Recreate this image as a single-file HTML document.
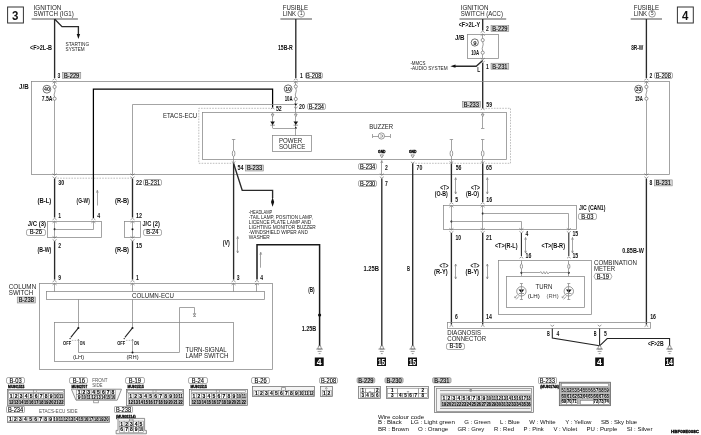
<!DOCTYPE html>
<html><head><meta charset="utf-8"><title>Wiring diagram</title><style>
html,body{margin:0;padding:0;background:#fff}
svg{display:block;will-change:transform;opacity:.999}
text{font-family:"Liberation Sans",sans-serif;fill:#111}
.n{font-size:6.6px;fill:#222}
.n3{font-size:5.5px;fill:#222}
.n2{font-size:5.9px;fill:#111}
.s{font-size:4.6px;fill:#222}
.s2{font-size:4.6px;fill:#555}
.b{font-size:6.4px;font-weight:bold;fill:#111}
.bt{font-size:8px;font-weight:normal;fill:#111;stroke:#111;stroke-width:.2}
.lt{font-size:6.5px;font-weight:normal;fill:#000;stroke:#000;stroke-width:.12}
.bs{font-size:6px;font-weight:bold;fill:#111}
.big{font-size:13.5px;font-weight:bold;fill:#111}
.gnd{font-size:3.9px;font-weight:bold;fill:#000;stroke:#000;stroke-width:.3}
.mu{font-size:4.2px;font-weight:bold;fill:#000;stroke:#000;stroke-width:.3}
.ct{font-size:5px;font-weight:bold;fill:#000;stroke:#000;stroke-width:.12}
.ct2{font-size:4.6px;font-weight:bold;fill:#000;stroke:#000;stroke-width:.08}
.cellg{stroke:#888;stroke-width:.4;fill:#d0d0d0}
.sqt{font-size:9.6px;font-weight:bold;fill:#fff}
.k{stroke:#000;stroke-width:1.25;fill:none}
.k2{stroke:#1a1a1a;stroke-width:1.5;fill:none}
.w{stroke:#2a2a2a;stroke-width:1.35;fill:none}
.w2{stroke:#222;stroke-width:1.05;fill:none}
.bar{stroke:#555;stroke-width:1.05;fill:none}
.bx{stroke:#333;stroke-width:1;fill:#fff}
.t{stroke:#858585;stroke-width:.75;fill:none}
.t2{stroke:#555;stroke-width:.6;fill:none}
.fc{stroke:#333;stroke-width:.7;fill:#fff}
.t2w{stroke:#555;stroke-width:.6;fill:#fff}
.dot{stroke:#888;stroke-width:.55;fill:none;stroke-dasharray:1.6 1.2}
.lb{stroke:#666;stroke-width:.55;fill:#fff}
.lbs{stroke:#777;stroke-width:.5;fill:#d6d6d6}
.lbg{stroke:#777;stroke-width:.5;fill:#c8c8c8}
.fk{fill:#111;stroke:none}
.blk{fill:#111;stroke:none}
.cbox{stroke:#666;stroke-width:.7;fill:#f4f4f4}
.cell{stroke:#777;stroke-width:.5;fill:#fff}
.gry{stroke:none;fill:#bbb}
.gryb{stroke:#555;stroke-width:.7;fill:#bbb}
</style></head><body>
<svg width="701" height="435" viewBox="0 0 701 435">
<rect x="0" y="0" width="701" height="435" fill="#fff"/>
<rect class="bx" x="7.6" y="7" width="15.8" height="16"/>
<text class="big" x="12.1" y="20.1" textLength="6.4" lengthAdjust="spacingAndGlyphs">3</text>
<rect class="bx" x="677.4" y="7" width="15.9" height="16"/>
<text class="big" x="682" y="20.1" textLength="6.4" lengthAdjust="spacingAndGlyphs">4</text>
<text class="n" x="33.6" y="10.2" textLength="27.8" lengthAdjust="spacingAndGlyphs">IGNITION</text>
<text class="n" x="33.6" y="16.3" textLength="40.2" lengthAdjust="spacingAndGlyphs">SWITCH (IG1)</text>
<polyline class="bar" points="31.6,19 77.9,19"/>
<polyline class="w" points="54.6,19 54.6,78"/>
<polyline class="w" points="54.6,19 62,26.6 78.4,26.6 78.4,35"/>
<path class="fk" d="M76.7,34 L80.1,34 L78.4,39Z"/>
<text class="s" x="65.6" y="46" textLength="23.6" lengthAdjust="spacingAndGlyphs">STARTING</text>
<text class="s" x="65.6" y="51" textLength="19" lengthAdjust="spacingAndGlyphs">SYSTEM</text>
<text class="b" x="30" y="50.3" textLength="22" lengthAdjust="spacingAndGlyphs">&lt;F&gt;2L-B</text>
<text class="b" x="57.6" y="77.6" textLength="2.8" lengthAdjust="spacingAndGlyphs">3</text>
<rect class="lbs" x="62.5" y="72.3" width="18.3" height="6"/>
<text class="lt" x="64.03" y="77.6" textLength="15.25" lengthAdjust="spacingAndGlyphs">B-229</text>
<text class="n" x="282.7" y="10.2" textLength="25.3" lengthAdjust="spacingAndGlyphs">FUSIBLE</text>
<text class="n" x="282.7" y="16.3" textLength="13.4" lengthAdjust="spacingAndGlyphs">LINK</text>
<circle class="t2" cx="301.2" cy="13.8" r="3.3"/>
<text class="s" x="301.3" y="15.2" text-anchor="middle">1</text>
<polyline class="bar" points="280.4,19 312,19"/>
<polyline class="w" points="295.8,19 295.8,78"/>
<text class="b" x="277.9" y="49.8" textLength="14.9" lengthAdjust="spacingAndGlyphs">15B-R</text>
<text class="b" x="300" y="77.6" textLength="2.8" lengthAdjust="spacingAndGlyphs">1</text>
<rect class="lb" x="305.5" y="72.5" width="17" height="6" rx="1.7"/>
<text class="lt" x="306.12" y="77.6" textLength="15.25" lengthAdjust="spacingAndGlyphs">B-208</text>
<text class="n" x="460.7" y="10.2" textLength="27.8" lengthAdjust="spacingAndGlyphs">IGNITION</text>
<text class="n" x="460.7" y="16.3" textLength="42.3" lengthAdjust="spacingAndGlyphs">SWITCH (ACC)</text>
<polyline class="bar" points="459.5,19 506.2,19"/>
<text class="b" x="458.7" y="26.8" textLength="21.5" lengthAdjust="spacingAndGlyphs">&lt;F&gt;2L-Y</text>
<text class="b" x="486" y="30.9" textLength="2.8" lengthAdjust="spacingAndGlyphs">2</text>
<rect class="lbs" x="491" y="25.6" width="17.8" height="6"/>
<text class="lt" x="492.27" y="30.9" textLength="15.25" lengthAdjust="spacingAndGlyphs">B-229</text>
<polyline class="w" points="482.7,19 482.7,30.5"/>
<polyline class="t2" points="480.7,32.6 482.7,31 484.7,32.6"/>
<polyline class="t2" points="480.7,35.6 482.7,34 484.7,35.6"/>
<rect class="t" x="467.5" y="34.5" width="31" height="24"/>
<polyline class="t" points="482.5,34.1 482.5,38.5"/>
<circle class="t2w" cx="482.7" cy="40.1" r="1.6"/>
<circle class="t2w" cx="482.7" cy="52.7" r="1.6"/>
<path class="t2" d="M482.7,41.7 C484.5,45.4 480.9,47.4 482.7,51.1"/>
<polyline class="t" points="482.5,54.3 482.5,58.7"/>
<circle class="fc" cx="474.8" cy="42.5" r="3.6"/>
<text class="bs" x="474.8" y="44.6" text-anchor="middle">9</text>
<text class="b" x="471.2" y="54.9" textLength="8" lengthAdjust="spacingAndGlyphs">10A</text>
<text class="b" x="454.9" y="39.7" textLength="9.6" lengthAdjust="spacingAndGlyphs">J/B</text>
<polyline class="t2" points="480.7,58.2 482.7,59.8 484.7,58.2"/>
<polyline class="t2" points="480.7,61.2 482.7,62.8 484.7,61.2"/>
<polyline class="w" points="482.7,63 482.7,108"/>
<polyline class="w" points="482.7,60.5 476.2,66.2 455,66.2"/>
<path class="fk" d="M455.5,64.6 L455.5,67.8 L450.3,66.2Z"/>
<text class="b" x="477.2" y="71.9" textLength="3" lengthAdjust="spacingAndGlyphs">L</text>
<text class="b" x="486" y="68.5" textLength="2.8" lengthAdjust="spacingAndGlyphs">1</text>
<rect class="lbs" x="491" y="63.2" width="17.8" height="6"/>
<text class="lt" x="492.27" y="68.5" textLength="15.25" lengthAdjust="spacingAndGlyphs">B-231</text>
<text class="s" x="410.4" y="64.5" textLength="15" lengthAdjust="spacingAndGlyphs">-MMCS</text>
<text class="s" x="410.4" y="69.5" textLength="37.2" lengthAdjust="spacingAndGlyphs">-AUDIO SYSTEM</text>
<text class="n" x="633.7" y="10.2" textLength="25.3" lengthAdjust="spacingAndGlyphs">FUSIBLE</text>
<text class="n" x="633.7" y="16.3" textLength="13.4" lengthAdjust="spacingAndGlyphs">LINK</text>
<circle class="t2" cx="652.1" cy="13.8" r="3.3"/>
<text class="s" x="652.3" y="15.2" text-anchor="middle">5</text>
<polyline class="bar" points="630.7,19 662,19"/>
<polyline class="w" points="646.4,19 646.4,78"/>
<text class="b" x="631.2" y="49.8" textLength="12.1" lengthAdjust="spacingAndGlyphs">8R-W</text>
<text class="b" x="649.4" y="77.6" textLength="2.8" lengthAdjust="spacingAndGlyphs">2</text>
<rect class="lb" x="654.5" y="72.5" width="18" height="6" rx="1.7"/>
<text class="lt" x="655.73" y="77.6" textLength="15.25" lengthAdjust="spacingAndGlyphs">B-208</text>
<rect class="t" x="31.5" y="81.5" width="638" height="93"/>
<text class="b" x="19" y="89.3" textLength="9.6" lengthAdjust="spacingAndGlyphs">J/B</text>
<polyline class="t2" points="52.6,80.2 54.6,78.6 56.6,80.2"/>
<polyline class="t2" points="52.6,83.2 54.6,81.6 56.6,83.2"/>
<polyline class="t" points="54.5,81.4 54.5,85.6"/>
<circle class="t2w" cx="54.6" cy="86.9" r="1.6"/>
<circle class="t2w" cx="54.6" cy="98.7" r="1.6"/>
<path class="t2" d="M54.6,88.5 C56.4,91.8 52.8,93.8 54.6,97.1"/>
<polyline class="t" points="54.5,100 54.5,174.4"/>
<circle class="fc" cx="46.9" cy="89.2" r="3.9"/>
<text class="bs" x="46.9" y="91.3" textLength="5.8" lengthAdjust="spacingAndGlyphs" text-anchor="middle">40</text>
<text class="b" x="41.7" y="101.1" textLength="10.7" lengthAdjust="spacingAndGlyphs">7.5A</text>
<polyline class="t2" points="293.8,80.2 295.8,78.6 297.8,80.2"/>
<polyline class="t2" points="293.8,83.2 295.8,81.6 297.8,83.2"/>
<polyline class="t" points="295.5,81.4 295.5,85.2"/>
<circle class="t2w" cx="295.8" cy="86.5" r="1.6"/>
<circle class="t2w" cx="295.8" cy="99" r="1.6"/>
<path class="t2" d="M295.8,88.1 C297.6,91.75 294,93.75 295.8,97.4"/>
<polyline class="t" points="295.5,100.3 295.5,112.5"/>
<circle class="fc" cx="288.1" cy="88.8" r="3.9"/>
<text class="bs" x="288.1" y="90.9" textLength="5.8" lengthAdjust="spacingAndGlyphs" text-anchor="middle">10</text>
<text class="b" x="284.7" y="101.1" textLength="7.9" lengthAdjust="spacingAndGlyphs">10A</text>
<polyline class="t2" points="294,103.36 295.8,104.8 297.6,103.36"/>
<polyline class="t2" points="294,106.86 295.8,108.3 297.6,106.86"/>
<text class="b" x="299" y="109" textLength="5.8" lengthAdjust="spacingAndGlyphs">20</text>
<rect class="lb" x="307.5" y="103.5" width="18" height="6" rx="1.7"/>
<text class="lt" x="308.77" y="109" textLength="15.25" lengthAdjust="spacingAndGlyphs">B-234</text>
<polyline class="t2" points="644.4,80.2 646.4,78.6 648.4,80.2"/>
<polyline class="t2" points="644.4,83.2 646.4,81.6 648.4,83.2"/>
<polyline class="t" points="646.5,81.4 646.5,85.6"/>
<circle class="t2w" cx="646.4" cy="86.9" r="1.6"/>
<circle class="t2w" cx="646.4" cy="98.7" r="1.6"/>
<path class="t2" d="M646.4,88.5 C648.2,91.8 644.6,93.8 646.4,97.1"/>
<polyline class="t" points="646.5,100 646.5,174.4"/>
<circle class="fc" cx="638.6" cy="89.2" r="3.9"/>
<text class="bs" x="638.6" y="91.3" textLength="5.8" lengthAdjust="spacingAndGlyphs" text-anchor="middle">33</text>
<text class="b" x="635" y="101.1" textLength="7.8" lengthAdjust="spacingAndGlyphs">15A</text>
<polyline class="k" points="93.4,218 93.4,89.2 272.6,89.2 272.6,107.5"/>
<polyline class="t" points="132.5,174.4 132.5,104.5 295.8,104.5"/>
<circle class="fk" cx="295.8" cy="104.4" r="0.9"/>
<polyline class="dot" points="272.6,108.3 198.8,108.3 198.8,163.3 233.6,163.3"/>
<polyline class="dot" points="482.7,108.3 510.5,108.3 510.5,163.3 412.7,163.3"/>
<rect class="t" x="202.5" y="112.5" width="304" height="47"/>
<text class="n" x="162.9" y="117.5" textLength="34.2" lengthAdjust="spacingAndGlyphs">ETACS-ECU</text>
<polyline class="t2" points="270.8,109.04 272.6,107.6 274.4,109.04"/>
<text class="b" x="275.9" y="111.1" textLength="5.8" lengthAdjust="spacingAndGlyphs">52</text>
<polyline class="t" points="272.6,112.5 272.6,114"/>
<path class="t2w" d="M271.3,114.2 L273.9,114.2 L272.6,116.8Z"/>
<polyline class="t" points="272.5,116.8 272.5,128"/>
<path class="fk" d="M270.3,121.6 L274.9,121.6 L272.6,125Z"/>
<polyline class="t2" points="270.3,125.2 274.9,125.2"/>
<polyline class="t" points="295.8,112.5 295.8,114"/>
<path class="t2w" d="M294.5,114.2 L297.1,114.2 L295.8,116.8Z"/>
<polyline class="t" points="295.5,116.8 295.5,128"/>
<path class="fk" d="M293.5,121.6 L298.1,121.6 L295.8,125Z"/>
<polyline class="t2" points="293.5,125.2 298.1,125.2"/>
<polyline class="t" points="272.6,128.5 295.8,128.5"/>
<circle class="fk" cx="295.8" cy="128" r="0.9"/>
<polyline class="t" points="295.5,128 295.5,135.7"/>
<rect class="t" x="272.5" y="135.5" width="39" height="16"/>
<text class="n" x="279" y="143.3" textLength="23.2" lengthAdjust="spacingAndGlyphs">POWER</text>
<text class="n" x="279" y="149.3" textLength="26.3" lengthAdjust="spacingAndGlyphs">SOURCE</text>
<polyline class="t" points="231.9,139.5 235.3,139.5"/>
<polyline class="t" points="233.5,139.5 233.5,150.5"/>
<ellipse class="t2w" cx="233.6" cy="153.5" rx="1.3" ry="3"/>
<polyline class="t" points="233.5,156.5 233.5,163"/>
<polyline class="t" points="449.7,139.5 453.1,139.5"/>
<polyline class="t" points="451.5,139.5 451.5,150.5"/>
<ellipse class="t2w" cx="451.4" cy="153.5" rx="1.3" ry="3"/>
<polyline class="t" points="451.5,156.5 451.5,163"/>
<polyline class="t" points="481,139.5 484.4,139.5"/>
<polyline class="t" points="482.5,139.5 482.5,150.5"/>
<ellipse class="t2w" cx="482.7" cy="153.5" rx="1.3" ry="3"/>
<polyline class="t" points="482.5,156.5 482.5,163"/>
<polyline class="t2" points="231.8,161.56 233.6,163 235.4,161.56"/>
<polyline class="t2" points="449.6,161.56 451.4,163 453.2,161.56"/>
<polyline class="t2" points="480.9,161.56 482.7,163 484.5,161.56"/>
<text class="b" x="237.4" y="170.3" textLength="6" lengthAdjust="spacingAndGlyphs">54</text>
<rect class="lbs" x="245.5" y="165" width="18" height="6"/>
<text class="lt" x="246.88" y="170.3" textLength="15.25" lengthAdjust="spacingAndGlyphs">B-233</text>
<polyline class="t2" points="480.9,109.74 482.7,108.3 484.5,109.74"/>
<rect class="lbs" x="462.3" y="101.4" width="18" height="6"/>
<text class="lt" x="463.68" y="106.7" textLength="15.25" lengthAdjust="spacingAndGlyphs">B-233</text>
<text class="b" x="486.3" y="106.8" textLength="5.7" lengthAdjust="spacingAndGlyphs">59</text>
<polyline class="t" points="482.7,112.5 482.7,114"/>
<path class="t2w" d="M481.4,114.2 L484,114.2 L482.7,116.8Z"/>
<polyline class="t" points="482.5,116.8 482.5,128"/>
<polyline class="t" points="481,128.5 484.4,128.5"/>
<text class="n" x="369.2" y="129.3" textLength="24" lengthAdjust="spacingAndGlyphs">BUZZER</text>
<circle class="t2" cx="381.4" cy="136" r="3.1"/>
<polyline class="t" points="372.8,136.5 378.3,136.5"/>
<polyline class="t" points="384.5,136.5 390,136.5"/>
<polyline class="t" points="372.5,134 372.5,138"/>
<polyline class="t" points="390.5,134 390.5,138"/>
<path class="t2" d="M380.2,134.9 L381.6,134.9 A1.1,1.1 0 0 1 381.6,137.1 L380.2,137.1"/>
<text class="gnd" x="381.8" y="152.8" textLength="7.6" lengthAdjust="spacingAndGlyphs" text-anchor="middle">GND</text>
<path class="t2w" d="M380.1,154.9 L383.5,154.9 L381.8,157.8Z"/>
<text class="gnd" x="412.7" y="152.8" textLength="7.6" lengthAdjust="spacingAndGlyphs" text-anchor="middle">GND</text>
<path class="t2w" d="M411,154.9 L414.4,154.9 L412.7,157.8Z"/>
<polyline class="t" points="381.5,160.6 381.5,174.4"/>
<polyline class="t2" points="410.9,161.86 412.7,163.3 414.5,161.86"/>
<polyline class="t2" points="52.6,173.7 54.6,175.3 56.6,173.7"/>
<polyline class="t2" points="52.6,176.7 54.6,178.3 56.6,176.7"/>
<polyline class="t2" points="130.5,173.7 132.5,175.3 134.5,173.7"/>
<polyline class="t2" points="130.5,176.7 132.5,178.3 134.5,176.7"/>
<polyline class="dot" points="54.6,178.2 132.5,178.2"/>
<text class="b" x="58.2" y="185.2" textLength="6" lengthAdjust="spacingAndGlyphs">30</text>
<text class="b" x="136" y="185.2" textLength="6" lengthAdjust="spacingAndGlyphs">22</text>
<rect class="lb" x="143.5" y="179.5" width="18" height="6" rx="1.7"/>
<text class="lt" x="144.82" y="185.2" textLength="15.25" lengthAdjust="spacingAndGlyphs">B-231</text>
<text class="b" x="37.4" y="202.8" textLength="13.9" lengthAdjust="spacingAndGlyphs">(B-L)</text>
<text class="b" x="76.6" y="202.8" textLength="13.2" lengthAdjust="spacingAndGlyphs">(G-W)</text>
<text class="b" x="115" y="202.8" textLength="14" lengthAdjust="spacingAndGlyphs">(R-B)</text>
<polyline class="t" points="97.5,190.3 97.5,205.5"/>
<polyline class="t" points="96.4,192.7 97.3,190.3 98.2,192.7"/>
<polyline class="w" points="54.6,178.6 54.6,217.5"/>
<polyline class="w" points="132.5,178.6 132.5,217.5"/>
<text class="b" x="58.2" y="218" textLength="2.8" lengthAdjust="spacingAndGlyphs">1</text>
<text class="b" x="97.3" y="218" textLength="2.9" lengthAdjust="spacingAndGlyphs">4</text>
<text class="b" x="136" y="218" textLength="6" lengthAdjust="spacingAndGlyphs">12</text>
<polyline class="t2" points="52.6,219.9 54.6,218.3 56.6,219.9"/>
<polyline class="t2" points="52.6,222.9 54.6,221.3 56.6,222.9"/>
<polyline class="t2" points="91.4,219.9 93.4,218.3 95.4,219.9"/>
<polyline class="t2" points="91.4,222.9 93.4,221.3 95.4,222.9"/>
<polyline class="t2" points="130.5,219.9 132.5,218.3 134.5,219.9"/>
<polyline class="t2" points="130.5,222.9 132.5,221.3 134.5,222.9"/>
<rect class="t" x="47.5" y="221.5" width="54" height="16"/>
<polyline class="t" points="54.5,221.4 54.5,237.5"/>
<circle class="fk" cx="54.6" cy="229.3" r="1"/>
<polyline class="t" points="54.6,229.5 93.5,229.5 93.5,221.4"/>
<text class="b" x="27.8" y="226.3" textLength="18.2" lengthAdjust="spacingAndGlyphs">J/C (3)</text>
<rect class="lb" x="26.5" y="229.5" width="19" height="6" rx="1.7"/>
<text class="lt" x="29.65" y="234.3" textLength="12.2" lengthAdjust="spacingAndGlyphs">B-26</text>
<rect class="t" x="124.5" y="221.5" width="16" height="16"/>
<polyline class="t" points="132.5,221.4 132.5,237.5"/>
<circle class="fk" cx="132.5" cy="229.3" r="1"/>
<text class="b" x="142.4" y="226.3" textLength="17.4" lengthAdjust="spacingAndGlyphs">J/C (2)</text>
<rect class="lb" x="143.5" y="229.5" width="18" height="6" rx="1.7"/>
<text class="lt" x="146.35" y="234.3" textLength="12.2" lengthAdjust="spacingAndGlyphs">B-24</text>
<polyline class="t2" points="52.6,236.4 54.6,238 56.6,236.4"/>
<polyline class="t2" points="52.6,239.4 54.6,241 56.6,239.4"/>
<polyline class="t2" points="130.5,236.4 132.5,238 134.5,236.4"/>
<polyline class="t2" points="130.5,239.4 132.5,241 134.5,239.4"/>
<text class="b" x="58.2" y="247.8" textLength="2.8" lengthAdjust="spacingAndGlyphs">2</text>
<text class="b" x="136" y="247.8" textLength="6" lengthAdjust="spacingAndGlyphs">15</text>
<text class="b" x="37.4" y="252.1" textLength="13.9" lengthAdjust="spacingAndGlyphs">(B-W)</text>
<text class="b" x="115" y="252.1" textLength="14" lengthAdjust="spacingAndGlyphs">(R-B)</text>
<polyline class="w" points="54.6,241.2 54.6,279.6"/>
<polyline class="w" points="132.5,241.2 132.5,279.6"/>
<text class="b" x="58.2" y="279.6" textLength="2.8" lengthAdjust="spacingAndGlyphs">9</text>
<text class="b" x="136" y="279.6" textLength="2.8" lengthAdjust="spacingAndGlyphs">1</text>
<polyline class="t2" points="52.6,282 54.6,280.4 56.6,282"/>
<polyline class="t2" points="52.6,285 54.6,283.4 56.6,285"/>
<polyline class="t2" points="130.5,282 132.5,280.4 134.5,282"/>
<polyline class="t2" points="130.5,285 132.5,283.4 134.5,285"/>
<polyline class="t2" points="231.6,282 233.6,280.4 235.6,282"/>
<polyline class="t2" points="231.6,285 233.6,283.4 235.6,285"/>
<polyline class="t2" points="254.9,282 256.9,280.4 258.9,282"/>
<polyline class="t2" points="254.9,285 256.9,283.4 258.9,285"/>
<polyline class="w" points="233.6,163.5 233.6,279.6"/>
<polyline class="w" points="233.6,163.5 242.2,190.3 272.6,190.3 272.6,198"/>
<path class="fk" d="M271,202 L274.2,202 L272.6,197.2Z"/>
<path class="fk" d="M271,202 L274.2,202 L272.6,206.8Z"/>
<text class="s" x="248.8" y="214.2" textLength="23.5" lengthAdjust="spacingAndGlyphs">-HEADLAMP</text>
<text class="s" x="248.8" y="219.13" textLength="64" lengthAdjust="spacingAndGlyphs">-TAIL LAMP, POSITION LAMP,</text>
<text class="s" x="248.8" y="224.06" textLength="62.5" lengthAdjust="spacingAndGlyphs">LICENCE PLATE LAMP AND</text>
<text class="s" x="248.8" y="228.99" textLength="67" lengthAdjust="spacingAndGlyphs">LIGHTING MONITOR BUZZER</text>
<text class="s" x="248.8" y="233.92" textLength="59" lengthAdjust="spacingAndGlyphs">-WINDSHIELD WIPER AND</text>
<text class="s" x="248.8" y="238.85" textLength="21" lengthAdjust="spacingAndGlyphs">WASHER</text>
<text class="b" x="222.8" y="244.5" textLength="7.1" lengthAdjust="spacingAndGlyphs">(V)</text>
<polyline class="t" points="237.5,236.6 237.5,253"/>
<polyline class="t" points="236.8,238.8 237.7,236.6 238.6,238.8"/>
<polyline class="t" points="236.8,250.8 237.7,253 238.6,250.8"/>
<polyline class="k2" points="257,279.6 257,244.7 319.6,244.7 319.6,346"/>
<polyline class="t" points="260.5,252.3 260.5,267.7"/>
<polyline class="t" points="259.9,254.7 260.8,252.3 261.7,254.7"/>
<text class="b" x="236.8" y="279.6" textLength="2.8" lengthAdjust="spacingAndGlyphs">3</text>
<text class="b" x="260.2" y="279.8" textLength="2.8" lengthAdjust="spacingAndGlyphs">4</text>
<circle class="fk" cx="319.6" cy="315" r="1.6"/>
<text class="b" x="308.2" y="292" textLength="6.4" lengthAdjust="spacingAndGlyphs">(B)</text>
<text class="b" x="301.7" y="330.7" textLength="14.6" lengthAdjust="spacingAndGlyphs">1.25B</text>
<path class="t2w" d="M318.7,345.8 L320.5,345.8 L321.5,349 L317.7,349Z"/>
<polyline class="t2" points="316.2,349.1 323,349.1"/>
<polyline class="t2" points="317.6,351.4 321.6,351.4"/>
<polyline class="t2" points="318.7,353.6 320.5,353.6"/>
<rect class="blk" x="314.8" y="357.5" width="8.9" height="8.5"/>
<text class="sqt" x="319.25" y="365.1" textLength="4.8" lengthAdjust="spacingAndGlyphs" text-anchor="middle">4</text>
<rect class="t" x="39.5" y="283.5" width="233" height="86"/>
<text class="n" x="8.8" y="288.8" textLength="27.4" lengthAdjust="spacingAndGlyphs">COLUMN</text>
<text class="n" x="8.8" y="294.6" textLength="24.5" lengthAdjust="spacingAndGlyphs">SWITCH</text>
<rect class="lbs" x="17.2" y="297" width="18.2" height="6"/>
<text class="lt" x="18.67" y="302.3" textLength="15.25" lengthAdjust="spacingAndGlyphs">B-238</text>
<rect class="t" x="46.5" y="291.5" width="218" height="8"/>
<text class="n" x="132" y="297.8" textLength="42" lengthAdjust="spacingAndGlyphs">COLUMN-ECU</text>
<polyline class="t" points="54.5,283.4 54.5,291.7"/>
<polyline class="t" points="132.5,283.4 132.5,291.7"/>
<polyline class="t" points="233.5,283.4 233.5,291.7"/>
<polyline class="t" points="256.5,283.4 256.5,291.7"/>
<rect class="t" x="54.5" y="322.5" width="179" height="39"/>
<polyline class="t" points="78.5,299.3 78.5,327.9"/>
<circle class="fk" cx="78.4" cy="327.9" r="1"/>
<polyline class="w2" points="78.4,327.9 70.8,337.4"/>
<circle class="fk" cx="70.1" cy="338.6" r="0.7"/>
<text class="bs" x="63.1" y="344.8" textLength="8" lengthAdjust="spacingAndGlyphs">OFF</text>
<text class="bs" x="79.8" y="344.8" textLength="5.1" lengthAdjust="spacingAndGlyphs">ON</text>
<polyline class="dot" points="71.8,340.4 76.9,340.4"/>
<polyline class="t" points="78.5,339.2 78.5,343.6"/>
<polyline class="t" points="77.6,340.8 78.4,339.2 79.2,340.8"/>
<polyline class="t" points="78.5,343.6 78.5,352.5"/>
<polyline class="t" points="132.5,299.3 132.5,327.9"/>
<circle class="fk" cx="132.5" cy="327.9" r="1"/>
<polyline class="w2" points="132.5,327.9 124.9,337.4"/>
<circle class="fk" cx="124.2" cy="338.6" r="0.7"/>
<text class="bs" x="117.2" y="344.8" textLength="8" lengthAdjust="spacingAndGlyphs">OFF</text>
<text class="bs" x="133.9" y="344.8" textLength="5.1" lengthAdjust="spacingAndGlyphs">ON</text>
<polyline class="dot" points="125.9,340.4 131,340.4"/>
<polyline class="t" points="132.5,339.2 132.5,343.6"/>
<polyline class="t" points="131.7,340.8 132.5,339.2 133.3,340.8"/>
<polyline class="t" points="132.5,343.6 132.5,352.5"/>
<polyline class="t" points="78.4,352.5 179.3,352.5"/>
<circle class="fk" cx="132.5" cy="352.5" r="1"/>
<polyline class="t" points="179.5,352.5 179.5,307.5 194.5,307.5 194.5,313.6"/>
<path class="t2w" d="M193.3,313.7 L195.7,313.7 L194.5,315.8Z"/>
<polyline class="t" points="193,316.5 196,316.5"/>
<text class="n3" x="72.9" y="358.8" textLength="11.3" lengthAdjust="spacingAndGlyphs">(LH)</text>
<text class="n3" x="126.4" y="358.8" textLength="12.2" lengthAdjust="spacingAndGlyphs">(RH)</text>
<text class="n" x="185.6" y="351.9" textLength="41" lengthAdjust="spacingAndGlyphs">TURN-SIGNAL</text>
<text class="n" x="185.6" y="358.2" textLength="43" lengthAdjust="spacingAndGlyphs">LAMP SWITCH</text>
<rect class="lb" x="358.5" y="163.5" width="18" height="6" rx="1.7"/>
<text class="lt" x="360.02" y="169.2" textLength="15.25" lengthAdjust="spacingAndGlyphs">B-234</text>
<text class="b" x="385" y="169.7" textLength="2.8" lengthAdjust="spacingAndGlyphs">2</text>
<rect class="lb" x="358.5" y="180.5" width="18" height="6" rx="1.7"/>
<text class="lt" x="360.02" y="185.6" textLength="15.25" lengthAdjust="spacingAndGlyphs">B-230</text>
<text class="b" x="385" y="185.6" textLength="2.8" lengthAdjust="spacingAndGlyphs">7</text>
<polyline class="t" points="380.8,163 381.8,160.6 382.8,163"/>
<polyline class="t2" points="379.8,173.7 381.8,175.3 383.8,173.7"/>
<polyline class="t2" points="379.8,176.7 381.8,178.3 383.8,176.7"/>
<polyline class="w" points="381.8,178.6 381.8,346"/>
<polyline class="w" points="412.7,163.5 412.7,346"/>
<text class="b" x="416.5" y="170.3" textLength="5.8" lengthAdjust="spacingAndGlyphs">70</text>
<text class="b" x="455.7" y="170.3" textLength="5.8" lengthAdjust="spacingAndGlyphs">56</text>
<text class="b" x="486" y="170.3" textLength="5.8" lengthAdjust="spacingAndGlyphs">65</text>
<polyline class="w" points="451.4,163.5 451.4,202"/>
<polyline class="w" points="482.7,163.5 482.7,202"/>
<text class="bt" x="444.7" y="189.6" textLength="8.8" lengthAdjust="spacingAndGlyphs" text-anchor="middle">&lt;T&gt;</text>
<text class="b" x="434.7" y="195.8" textLength="13.1" lengthAdjust="spacingAndGlyphs">(O-B)</text>
<polyline class="t" points="455.5,177.7 455.5,194"/>
<polyline class="t" points="454.8,179.9 455.7,177.7 456.6,179.9"/>
<polyline class="t" points="454.8,191.8 455.7,194 456.6,191.8"/>
<text class="bt" x="475.5" y="189.6" textLength="8.8" lengthAdjust="spacingAndGlyphs" text-anchor="middle">&lt;T&gt;</text>
<text class="b" x="466" y="195.8" textLength="13" lengthAdjust="spacingAndGlyphs">(B-O)</text>
<polyline class="t" points="487.5,177.7 487.5,194"/>
<polyline class="t" points="486.4,179.9 487.3,177.7 488.2,179.9"/>
<polyline class="t" points="486.4,191.8 487.3,194 488.2,191.8"/>
<text class="b" x="455.3" y="202" textLength="2.8" lengthAdjust="spacingAndGlyphs">5</text>
<text class="b" x="486.3" y="202" textLength="5.8" lengthAdjust="spacingAndGlyphs">16</text>
<polyline class="t2" points="449.4,204.2 451.4,202.6 453.4,204.2"/>
<polyline class="t2" points="449.4,207.2 451.4,205.6 453.4,207.2"/>
<polyline class="t2" points="480.7,204.2 482.7,202.6 484.7,204.2"/>
<polyline class="t2" points="480.7,207.2 482.7,205.6 484.7,207.2"/>
<rect class="t" x="443.5" y="205.5" width="133" height="24"/>
<polyline class="t" points="451.5,205.5 451.5,229"/>
<polyline class="t" points="482.5,205.5 482.5,229"/>
<circle class="fk" cx="482.7" cy="213.6" r="1"/>
<polyline class="t" points="482.7,213.5 568.5,213.5 568.5,229"/>
<circle class="fk" cx="451.4" cy="221.4" r="1"/>
<polyline class="t" points="451.4,221.5 521.5,221.5 521.5,229"/>
<text class="b" x="578.9" y="210.3" textLength="26.5" lengthAdjust="spacingAndGlyphs">J/C (CAN1)</text>
<rect class="lb" x="578.5" y="213.5" width="18" height="6" rx="1.7"/>
<text class="lt" x="581.35" y="218.9" textLength="12.2" lengthAdjust="spacingAndGlyphs">B-03</text>
<polyline class="t2" points="449.4,228.3 451.4,229.9 453.4,228.3"/>
<polyline class="t2" points="449.4,231.3 451.4,232.9 453.4,231.3"/>
<polyline class="t2" points="480.7,228.3 482.7,229.9 484.7,228.3"/>
<polyline class="t2" points="480.7,231.3 482.7,232.9 484.7,231.3"/>
<polyline class="t2" points="519.4,228.3 521.4,229.9 523.4,228.3"/>
<polyline class="t2" points="519.4,231.3 521.4,232.9 523.4,231.3"/>
<polyline class="t2" points="566.8,228.3 568.8,229.9 570.8,228.3"/>
<polyline class="t2" points="566.8,231.3 568.8,232.9 570.8,231.3"/>
<text class="b" x="455.4" y="239.7" textLength="5.7" lengthAdjust="spacingAndGlyphs">10</text>
<text class="b" x="486" y="239.7" textLength="5.8" lengthAdjust="spacingAndGlyphs">21</text>
<polyline class="w" points="451.4,233 451.4,324.6"/>
<polyline class="w" points="482.7,233 482.7,324.6"/>
<polyline class="w2" points="521.4,233 521.4,256"/>
<polyline class="w2" points="568.8,233 568.8,256"/>
<text class="b" x="525.5" y="236" textLength="2.8" lengthAdjust="spacingAndGlyphs">4</text>
<text class="b" x="525.5" y="258.3" textLength="5.8" lengthAdjust="spacingAndGlyphs">16</text>
<text class="b" x="572.4" y="236" textLength="5.8" lengthAdjust="spacingAndGlyphs">15</text>
<text class="b" x="572.4" y="258.1" textLength="5.8" lengthAdjust="spacingAndGlyphs">15</text>
<polyline class="t" points="525.5,237.5 525.5,253"/>
<polyline class="t" points="524.7,239.7 525.6,237.5 526.5,239.7"/>
<polyline class="t" points="524.7,250.8 525.6,253 526.5,250.8"/>
<polyline class="t" points="572.5,237.5 572.5,253"/>
<polyline class="t" points="571.6,239.7 572.5,237.5 573.4,239.7"/>
<polyline class="t" points="571.6,250.8 572.5,253 573.4,250.8"/>
<text class="b" x="494.9" y="248.3" textLength="22.7" lengthAdjust="spacingAndGlyphs">&lt;T&gt;(R-L)</text>
<text class="b" x="541.4" y="248.3" textLength="23.6" lengthAdjust="spacingAndGlyphs">&lt;T&gt;(B-R)</text>
<polyline class="t2" points="519.6,258.24 521.4,256.8 523.2,258.24"/>
<polyline class="t2" points="567,258.24 568.8,256.8 570.6,258.24"/>
<text class="b" x="363.4" y="270.8" textLength="15.6" lengthAdjust="spacingAndGlyphs">1.25B</text>
<text class="b" x="407" y="270.8" textLength="3" lengthAdjust="spacingAndGlyphs">B</text>
<text class="bt" x="444" y="268.1" textLength="8.8" lengthAdjust="spacingAndGlyphs" text-anchor="middle">&lt;T&gt;</text>
<text class="b" x="434" y="274.4" textLength="13.6" lengthAdjust="spacingAndGlyphs">(R-Y)</text>
<polyline class="t" points="455.5,264 455.5,279"/>
<polyline class="t" points="454.8,266.2 455.7,264 456.6,266.2"/>
<polyline class="t" points="454.8,276.8 455.7,279 456.6,276.8"/>
<text class="bt" x="475" y="268.1" textLength="8.8" lengthAdjust="spacingAndGlyphs" text-anchor="middle">&lt;T&gt;</text>
<text class="b" x="465.6" y="274.4" textLength="13.4" lengthAdjust="spacingAndGlyphs">(B-Y)</text>
<polyline class="t" points="487.5,264 487.5,279"/>
<polyline class="t" points="486.4,266.2 487.3,264 488.2,266.2"/>
<polyline class="t" points="486.4,276.8 487.3,279 488.2,276.8"/>
<text class="b" x="455" y="318.8" textLength="2.8" lengthAdjust="spacingAndGlyphs">6</text>
<text class="b" x="486" y="318.8" textLength="5.8" lengthAdjust="spacingAndGlyphs">14</text>
<path class="t2w" d="M380.9,345.8 L382.7,345.8 L383.7,349 L379.9,349Z"/>
<polyline class="t2" points="378.4,349.1 385.2,349.1"/>
<polyline class="t2" points="379.8,351.4 383.8,351.4"/>
<polyline class="t2" points="380.9,353.6 382.7,353.6"/>
<path class="t2w" d="M411.8,345.8 L413.6,345.8 L414.6,349 L410.8,349Z"/>
<polyline class="t2" points="409.3,349.1 416.1,349.1"/>
<polyline class="t2" points="410.7,351.4 414.7,351.4"/>
<polyline class="t2" points="411.8,353.6 413.6,353.6"/>
<rect class="blk" x="377" y="357.5" width="9" height="8.5"/>
<text class="sqt" x="381.5" y="365.1" textLength="7" lengthAdjust="spacingAndGlyphs" text-anchor="middle">15</text>
<rect class="blk" x="408" y="357.5" width="9" height="8.5"/>
<text class="sqt" x="412.5" y="365.1" textLength="7" lengthAdjust="spacingAndGlyphs" text-anchor="middle">15</text>
<rect class="t" x="498.5" y="260.5" width="93" height="54"/>
<rect class="t" x="506.5" y="276.5" width="78" height="31"/>
<polyline class="t" points="521.5,260.6 521.5,264"/>
<ellipse class="t2w" cx="521.4" cy="266.4" rx="1.1" ry="2.4"/>
<polyline class="t" points="521.5,268.8 521.5,276"/>
<circle class="fk" cx="521.4" cy="272.8" r="1"/>
<polyline class="t" points="521.5,283.6 521.5,286.6"/>
<polyline class="t" points="521.5,296 521.5,299.6"/>
<circle class="t2" cx="521.4" cy="291.3" r="4.7"/>
<path class="fk" d="M518.5,289.4 L524.3,289.4 L521.4,293.1Z"/>
<polyline class="t2" points="518.8,293.5 524,293.5"/>
<polyline class="t" points="521.5,287 521.5,296"/>
<polyline class="t" points="519.9,283.5 522.9,283.5"/>
<polyline class="t" points="519.9,299.5 522.9,299.5"/>
<polyline class="t" points="517.5,294.6 514.8,297.8"/>
<polyline class="t" points="518.8,296.4 516.2,299.4"/>
<polyline class="t" points="514.7,296.4 514.8,297.8 516.1,297.6"/>
<polyline class="t" points="568.5,260.6 568.5,264"/>
<ellipse class="t2w" cx="568.8" cy="266.4" rx="1.1" ry="2.4"/>
<polyline class="t" points="568.5,268.8 568.5,276"/>
<circle class="fk" cx="568.8" cy="272.8" r="1"/>
<polyline class="t" points="568.5,283.6 568.5,286.6"/>
<polyline class="t" points="568.5,296 568.5,299.6"/>
<circle class="t2" cx="568.8" cy="291.3" r="4.7"/>
<path class="fk" d="M565.9,289.4 L571.7,289.4 L568.8,293.1Z"/>
<polyline class="t2" points="566.2,293.5 571.4,293.5"/>
<polyline class="t" points="568.5,287 568.5,296"/>
<polyline class="t" points="567.3,283.5 570.3,283.5"/>
<polyline class="t" points="567.3,299.5 570.3,299.5"/>
<polyline class="t" points="564.9,294.6 562.2,297.8"/>
<polyline class="t" points="566.2,296.4 563.6,299.4"/>
<polyline class="t" points="562.1,296.4 562.2,297.8 563.5,297.6"/>
<polyline class="t" points="521.4,272.5 540,272.5 541,271.6 542.4,274 543.8,271.6 545.2,274 546.6,271.6 548,274 549,272.5 568.8,272.5"/>
<text class="n" x="535.6" y="288.8" textLength="16.7" lengthAdjust="spacingAndGlyphs">TURN</text>
<text class="n3" x="527.8" y="297.8" textLength="12" lengthAdjust="spacingAndGlyphs">(LH)</text>
<text class="s2" x="546.5" y="298" textLength="12.1" lengthAdjust="spacingAndGlyphs">(RH)</text>
<text class="n" x="594" y="264.7" textLength="43" lengthAdjust="spacingAndGlyphs">COMBINATION</text>
<text class="n" x="594" y="270.6" textLength="21" lengthAdjust="spacingAndGlyphs">METER</text>
<path class="lb" d="M594,276.4 L595.5,273.4 L610.4,273.4 L611.9,276.4 L610.4,279.4 L595.5,279.4Z"/>
<text class="lt" x="596.85" y="278.7" textLength="12.2" lengthAdjust="spacingAndGlyphs">B-19</text>
<polyline class="t2" points="644.4,173.7 646.4,175.3 648.4,173.7"/>
<polyline class="t2" points="644.4,176.7 646.4,178.3 648.4,176.7"/>
<text class="b" x="649.4" y="185.2" textLength="2.8" lengthAdjust="spacingAndGlyphs">8</text>
<rect class="lbs" x="654.5" y="179.9" width="17.7" height="6"/>
<text class="lt" x="655.73" y="185.2" textLength="15.25" lengthAdjust="spacingAndGlyphs">B-231</text>
<polyline class="w" points="646.4,178.6 646.4,324.6"/>
<text class="b" x="622.3" y="252.6" textLength="21.5" lengthAdjust="spacingAndGlyphs">0.85B-W</text>
<text class="b" x="650.2" y="318.8" textLength="5.8" lengthAdjust="spacingAndGlyphs">16</text>
<rect class="t" x="447.5" y="322.5" width="203" height="6"/>
<polyline class="t2" points="449.6,326.64 451.4,325.2 453.2,326.64"/>
<polyline class="t2" points="480.9,326.64 482.7,325.2 484.5,326.64"/>
<polyline class="t2" points="644.6,326.64 646.4,325.2 648.2,326.64"/>
<polyline class="t2" points="550.5,324.96 552.3,326.4 554.1,324.96"/>
<polyline class="t2" points="597.8,324.96 599.6,326.4 601.4,324.96"/>
<text class="n" x="447.3" y="334.8" textLength="33.7" lengthAdjust="spacingAndGlyphs">DIAGNOSIS</text>
<text class="n" x="447.3" y="340.8" textLength="38.7" lengthAdjust="spacingAndGlyphs">CONNECTOR</text>
<rect class="lb" x="446.5" y="343.5" width="18" height="6" rx="1.7"/>
<text class="lt" x="449.55" y="348.3" textLength="12.2" lengthAdjust="spacingAndGlyphs">B-16</text>
<polyline class="w2" points="552.3,328.6 552.3,338 599.6,345.8"/>
<polyline class="w2" points="599.6,328.6 599.6,345.8"/>
<polyline class="w2" points="599.6,345.8 607.2,338.5 669.6,338.5 669.6,346"/>
<text class="b" x="547" y="335.7" textLength="2.8" lengthAdjust="spacingAndGlyphs">B</text>
<text class="b" x="556.6" y="335.7" textLength="2.8" lengthAdjust="spacingAndGlyphs">4</text>
<text class="b" x="593.8" y="335.7" textLength="2.8" lengthAdjust="spacingAndGlyphs">B</text>
<text class="b" x="603.9" y="335.7" textLength="2.8" lengthAdjust="spacingAndGlyphs">5</text>
<text class="b" x="648" y="345.9" textLength="15.6" lengthAdjust="spacingAndGlyphs">&lt;F&gt;2B</text>
<path class="t2w" d="M598.7,345.8 L600.5,345.8 L601.5,349 L597.7,349Z"/>
<polyline class="t2" points="596.2,349.1 603,349.1"/>
<polyline class="t2" points="597.6,351.4 601.6,351.4"/>
<polyline class="t2" points="598.7,353.6 600.5,353.6"/>
<path class="t2w" d="M668.7,345.8 L670.5,345.8 L671.5,349 L667.7,349Z"/>
<polyline class="t2" points="666.2,349.1 673,349.1"/>
<polyline class="t2" points="667.6,351.4 671.6,351.4"/>
<polyline class="t2" points="668.7,353.6 670.5,353.6"/>
<rect class="blk" x="595.2" y="357.5" width="8.6" height="8.5"/>
<text class="sqt" x="599.5" y="365.1" textLength="4.8" lengthAdjust="spacingAndGlyphs" text-anchor="middle">4</text>
<rect class="blk" x="665" y="357.5" width="8.7" height="8.5"/>
<text class="sqt" x="669.35" y="365.1" textLength="7" lengthAdjust="spacingAndGlyphs" text-anchor="middle">14</text>
<rect class="lb" x="6.5" y="377.5" width="18" height="6" rx="1.7"/>
<text class="lt" x="9.5" y="382.5" textLength="12.2" lengthAdjust="spacingAndGlyphs">B-03</text>
<text class="mu" x="8.1" y="388.3" textLength="16.4" lengthAdjust="spacingAndGlyphs">MU801515</text>
<rect class="cbox" x="7.5" y="389.5" width="57" height="16"/>
<rect class="cell" x="8.5" y="390.5" width="55" height="2"/>
<rect class="cell" x="33.6" y="390.2" width="3" height="2.4"/>
<rect class="cell" x="8.75" y="393.4" width="5" height="5.3"/>
<text class="ct" x="11.25" y="397.8" text-anchor="middle">1</text>
<rect class="cell" x="13.75" y="393.4" width="5" height="5.3"/>
<text class="ct" x="16.24" y="397.8" text-anchor="middle">2</text>
<rect class="cell" x="18.74" y="393.4" width="5" height="5.3"/>
<text class="ct" x="21.24" y="397.8" text-anchor="middle">3</text>
<rect class="cell" x="23.74" y="393.4" width="5" height="5.3"/>
<text class="ct" x="26.23" y="397.8" text-anchor="middle">4</text>
<rect class="cell" x="28.73" y="393.4" width="5" height="5.3"/>
<text class="ct" x="31.23" y="397.8" text-anchor="middle">5</text>
<rect class="cell" x="33.73" y="393.4" width="5" height="5.3"/>
<text class="ct" x="36.22" y="397.8" text-anchor="middle">6</text>
<rect class="cell" x="38.72" y="393.4" width="5" height="5.3"/>
<text class="ct" x="41.22" y="397.8" text-anchor="middle">7</text>
<rect class="cell" x="43.72" y="393.4" width="5" height="5.3"/>
<text class="ct" x="46.22" y="397.8" text-anchor="middle">8</text>
<rect class="cell" x="48.71" y="393.4" width="5" height="5.3"/>
<text class="ct" x="51.21" y="397.8" text-anchor="middle">9</text>
<rect class="cell" x="53.71" y="393.4" width="5" height="5.3"/>
<text class="ct" x="54.06" y="397.8" textLength="4.3" lengthAdjust="spacingAndGlyphs">10</text>
<rect class="cell" x="58.7" y="393.4" width="5" height="5.3"/>
<text class="ct" x="59.05" y="397.8" textLength="4.3" lengthAdjust="spacingAndGlyphs">11</text>
<rect class="cellg" x="8.75" y="399" width="5" height="5.4"/>
<text class="ct" x="9.1" y="403.5" textLength="4.3" lengthAdjust="spacingAndGlyphs">12</text>
<rect class="cellg" x="13.75" y="399" width="5" height="5.4"/>
<text class="ct" x="14.1" y="403.5" textLength="4.3" lengthAdjust="spacingAndGlyphs">13</text>
<rect class="cellg" x="18.74" y="399" width="5" height="5.4"/>
<text class="ct" x="19.09" y="403.5" textLength="4.3" lengthAdjust="spacingAndGlyphs">14</text>
<rect class="cellg" x="23.74" y="399" width="5" height="5.4"/>
<text class="ct" x="24.09" y="403.5" textLength="4.3" lengthAdjust="spacingAndGlyphs">15</text>
<rect class="cellg" x="28.73" y="399" width="5" height="5.4"/>
<text class="ct" x="29.08" y="403.5" textLength="4.3" lengthAdjust="spacingAndGlyphs">16</text>
<rect class="cellg" x="33.73" y="399" width="5" height="5.4"/>
<text class="ct" x="34.08" y="403.5" textLength="4.3" lengthAdjust="spacingAndGlyphs">17</text>
<rect class="cellg" x="38.72" y="399" width="5" height="5.4"/>
<text class="ct" x="39.07" y="403.5" textLength="4.3" lengthAdjust="spacingAndGlyphs">18</text>
<rect class="cellg" x="43.72" y="399" width="5" height="5.4"/>
<text class="ct" x="44.07" y="403.5" textLength="4.3" lengthAdjust="spacingAndGlyphs">19</text>
<rect class="cellg" x="48.71" y="399" width="5" height="5.4"/>
<text class="ct" x="49.06" y="403.5" textLength="4.3" lengthAdjust="spacingAndGlyphs">20</text>
<rect class="cellg" x="53.71" y="399" width="5" height="5.4"/>
<text class="ct" x="54.06" y="403.5" textLength="4.3" lengthAdjust="spacingAndGlyphs">21</text>
<rect class="cellg" x="58.7" y="399" width="5" height="5.4"/>
<text class="ct" x="59.05" y="403.5" textLength="4.3" lengthAdjust="spacingAndGlyphs">22</text>
<rect class="lb" x="125.5" y="377.5" width="19" height="6" rx="1.7"/>
<text class="lt" x="128.8" y="382.5" textLength="12.2" lengthAdjust="spacingAndGlyphs">B-19</text>
<text class="mu" x="127.4" y="388.3" textLength="16.4" lengthAdjust="spacingAndGlyphs">MU801515</text>
<rect class="cbox" x="126.5" y="389.5" width="57" height="16"/>
<rect class="cell" x="127.5" y="390.5" width="55" height="2"/>
<rect class="cell" x="153" y="390.2" width="3" height="2.4"/>
<rect class="cell" x="128.15" y="393.4" width="5" height="5.3"/>
<text class="ct" x="130.65" y="397.8" text-anchor="middle">1</text>
<rect class="cell" x="133.15" y="393.4" width="5" height="5.3"/>
<text class="ct" x="135.64" y="397.8" text-anchor="middle">2</text>
<rect class="cell" x="138.14" y="393.4" width="5" height="5.3"/>
<text class="ct" x="140.64" y="397.8" text-anchor="middle">3</text>
<rect class="cell" x="143.14" y="393.4" width="5" height="5.3"/>
<text class="ct" x="145.63" y="397.8" text-anchor="middle">4</text>
<rect class="cell" x="148.13" y="393.4" width="5" height="5.3"/>
<text class="ct" x="150.63" y="397.8" text-anchor="middle">5</text>
<rect class="cell" x="153.13" y="393.4" width="5" height="5.3"/>
<text class="ct" x="155.62" y="397.8" text-anchor="middle">6</text>
<rect class="cell" x="158.12" y="393.4" width="5" height="5.3"/>
<text class="ct" x="160.62" y="397.8" text-anchor="middle">7</text>
<rect class="cell" x="163.12" y="393.4" width="5" height="5.3"/>
<text class="ct" x="165.62" y="397.8" text-anchor="middle">8</text>
<rect class="cell" x="168.11" y="393.4" width="5" height="5.3"/>
<text class="ct" x="170.61" y="397.8" text-anchor="middle">9</text>
<rect class="cell" x="173.11" y="393.4" width="5" height="5.3"/>
<text class="ct" x="173.46" y="397.8" textLength="4.3" lengthAdjust="spacingAndGlyphs">10</text>
<rect class="cell" x="178.1" y="393.4" width="5" height="5.3"/>
<text class="ct" x="178.45" y="397.8" textLength="4.3" lengthAdjust="spacingAndGlyphs">11</text>
<rect class="cellg" x="128.15" y="399" width="5" height="5.4"/>
<text class="ct" x="128.5" y="403.5" textLength="4.3" lengthAdjust="spacingAndGlyphs">12</text>
<rect class="cellg" x="133.15" y="399" width="5" height="5.4"/>
<text class="ct" x="133.5" y="403.5" textLength="4.3" lengthAdjust="spacingAndGlyphs">13</text>
<rect class="cellg" x="138.14" y="399" width="5" height="5.4"/>
<text class="ct" x="138.49" y="403.5" textLength="4.3" lengthAdjust="spacingAndGlyphs">14</text>
<rect class="cellg" x="143.14" y="399" width="5" height="5.4"/>
<text class="ct" x="143.49" y="403.5" textLength="4.3" lengthAdjust="spacingAndGlyphs">15</text>
<rect class="cellg" x="148.13" y="399" width="5" height="5.4"/>
<text class="ct" x="148.48" y="403.5" textLength="4.3" lengthAdjust="spacingAndGlyphs">16</text>
<rect class="cellg" x="153.13" y="399" width="5" height="5.4"/>
<text class="ct" x="153.48" y="403.5" textLength="4.3" lengthAdjust="spacingAndGlyphs">17</text>
<rect class="cellg" x="158.12" y="399" width="5" height="5.4"/>
<text class="ct" x="158.47" y="403.5" textLength="4.3" lengthAdjust="spacingAndGlyphs">18</text>
<rect class="cellg" x="163.12" y="399" width="5" height="5.4"/>
<text class="ct" x="163.47" y="403.5" textLength="4.3" lengthAdjust="spacingAndGlyphs">19</text>
<rect class="cellg" x="168.11" y="399" width="5" height="5.4"/>
<text class="ct" x="168.46" y="403.5" textLength="4.3" lengthAdjust="spacingAndGlyphs">20</text>
<rect class="cellg" x="173.11" y="399" width="5" height="5.4"/>
<text class="ct" x="173.46" y="403.5" textLength="4.3" lengthAdjust="spacingAndGlyphs">21</text>
<rect class="cellg" x="178.1" y="399" width="5" height="5.4"/>
<text class="ct" x="178.45" y="403.5" textLength="4.3" lengthAdjust="spacingAndGlyphs">22</text>
<rect class="lb" x="188.5" y="377.5" width="19" height="6" rx="1.7"/>
<text class="lt" x="191.8" y="382.5" textLength="12.2" lengthAdjust="spacingAndGlyphs">B-24</text>
<text class="mu" x="190.4" y="388.3" textLength="16.4" lengthAdjust="spacingAndGlyphs">MU801515</text>
<rect class="cbox" x="189.5" y="389.5" width="58" height="16"/>
<rect class="cell" x="191.5" y="390.5" width="54" height="2"/>
<rect class="cell" x="216.2" y="390.2" width="3" height="2.4"/>
<rect class="cell" x="191.35" y="393.4" width="5" height="5.3"/>
<text class="ct" x="193.85" y="397.8" text-anchor="middle">1</text>
<rect class="cell" x="196.35" y="393.4" width="5" height="5.3"/>
<text class="ct" x="198.84" y="397.8" text-anchor="middle">2</text>
<rect class="cell" x="201.34" y="393.4" width="5" height="5.3"/>
<text class="ct" x="203.84" y="397.8" text-anchor="middle">3</text>
<rect class="cell" x="206.34" y="393.4" width="5" height="5.3"/>
<text class="ct" x="208.83" y="397.8" text-anchor="middle">4</text>
<rect class="cell" x="211.33" y="393.4" width="5" height="5.3"/>
<text class="ct" x="213.83" y="397.8" text-anchor="middle">5</text>
<rect class="cell" x="216.33" y="393.4" width="5" height="5.3"/>
<text class="ct" x="218.82" y="397.8" text-anchor="middle">6</text>
<rect class="cell" x="221.32" y="393.4" width="5" height="5.3"/>
<text class="ct" x="223.82" y="397.8" text-anchor="middle">7</text>
<rect class="cell" x="226.32" y="393.4" width="5" height="5.3"/>
<text class="ct" x="228.82" y="397.8" text-anchor="middle">8</text>
<rect class="cell" x="231.31" y="393.4" width="5" height="5.3"/>
<text class="ct" x="233.81" y="397.8" text-anchor="middle">9</text>
<rect class="cell" x="236.31" y="393.4" width="5" height="5.3"/>
<text class="ct" x="236.66" y="397.8" textLength="4.3" lengthAdjust="spacingAndGlyphs">10</text>
<rect class="cell" x="241.3" y="393.4" width="5" height="5.3"/>
<text class="ct" x="241.65" y="397.8" textLength="4.3" lengthAdjust="spacingAndGlyphs">11</text>
<rect class="cellg" x="191.35" y="399" width="5" height="5.4"/>
<text class="ct" x="191.7" y="403.5" textLength="4.3" lengthAdjust="spacingAndGlyphs">12</text>
<rect class="cellg" x="196.35" y="399" width="5" height="5.4"/>
<text class="ct" x="196.7" y="403.5" textLength="4.3" lengthAdjust="spacingAndGlyphs">13</text>
<rect class="cellg" x="201.34" y="399" width="5" height="5.4"/>
<text class="ct" x="201.69" y="403.5" textLength="4.3" lengthAdjust="spacingAndGlyphs">14</text>
<rect class="cellg" x="206.34" y="399" width="5" height="5.4"/>
<text class="ct" x="206.69" y="403.5" textLength="4.3" lengthAdjust="spacingAndGlyphs">15</text>
<rect class="cellg" x="211.33" y="399" width="5" height="5.4"/>
<text class="ct" x="211.68" y="403.5" textLength="4.3" lengthAdjust="spacingAndGlyphs">16</text>
<rect class="cellg" x="216.33" y="399" width="5" height="5.4"/>
<text class="ct" x="216.68" y="403.5" textLength="4.3" lengthAdjust="spacingAndGlyphs">17</text>
<rect class="cellg" x="221.32" y="399" width="5" height="5.4"/>
<text class="ct" x="221.67" y="403.5" textLength="4.3" lengthAdjust="spacingAndGlyphs">18</text>
<rect class="cellg" x="226.32" y="399" width="5" height="5.4"/>
<text class="ct" x="226.67" y="403.5" textLength="4.3" lengthAdjust="spacingAndGlyphs">19</text>
<rect class="cellg" x="231.31" y="399" width="5" height="5.4"/>
<text class="ct" x="231.66" y="403.5" textLength="4.3" lengthAdjust="spacingAndGlyphs">20</text>
<rect class="cellg" x="236.31" y="399" width="5" height="5.4"/>
<text class="ct" x="236.66" y="403.5" textLength="4.3" lengthAdjust="spacingAndGlyphs">21</text>
<rect class="cellg" x="241.3" y="399" width="5" height="5.4"/>
<text class="ct" x="241.65" y="403.5" textLength="4.3" lengthAdjust="spacingAndGlyphs">22</text>
<rect class="lb" x="69.5" y="377.5" width="18" height="6" rx="1.7"/>
<text class="lt" x="72.65" y="382.5" textLength="12.2" lengthAdjust="spacingAndGlyphs">B-16</text>
<text class="s2" x="92.2" y="382.1" textLength="15.4" lengthAdjust="spacingAndGlyphs">FRONT</text>
<text class="s2" x="92.2" y="386.8" textLength="10.4" lengthAdjust="spacingAndGlyphs">SIDE</text>
<text class="mu" x="71.4" y="388.1" textLength="15.8" lengthAdjust="spacingAndGlyphs">MU802707</text>
<path class="cbox" d="M71.4,389.2 L121.5,389.2 L117.2,400.2 L76,400.2Z"/>
<rect class="cell" x="76.6" y="390" width="4.85" height="4.6"/>
<text class="ct" x="79.02" y="393.7" text-anchor="middle">1</text>
<rect class="cell" x="81.45" y="390" width="4.85" height="4.6"/>
<text class="ct" x="83.88" y="393.7" text-anchor="middle">2</text>
<rect class="cell" x="86.3" y="390" width="4.85" height="4.6"/>
<text class="ct" x="88.72" y="393.7" text-anchor="middle">3</text>
<rect class="cell" x="91.15" y="390" width="4.85" height="4.6"/>
<text class="ct" x="93.58" y="393.7" text-anchor="middle">4</text>
<rect class="cell" x="96" y="390" width="4.85" height="4.6"/>
<text class="ct" x="98.42" y="393.7" text-anchor="middle">5</text>
<rect class="cell" x="100.85" y="390" width="4.85" height="4.6"/>
<text class="ct" x="103.28" y="393.7" text-anchor="middle">6</text>
<rect class="cell" x="105.7" y="390" width="4.85" height="4.6"/>
<text class="ct" x="108.12" y="393.7" text-anchor="middle">7</text>
<rect class="cell" x="110.55" y="390" width="4.85" height="4.6"/>
<text class="ct" x="112.98" y="393.7" text-anchor="middle">8</text>
<rect class="cell" x="76.6" y="394.6" width="4.85" height="4.8"/>
<text class="ct" x="79.02" y="398.5" text-anchor="middle">9</text>
<rect class="cell" x="81.45" y="394.6" width="4.85" height="4.8"/>
<text class="ct" x="81.8" y="398.5" textLength="4.15" lengthAdjust="spacingAndGlyphs">10</text>
<rect class="cell" x="86.3" y="394.6" width="4.85" height="4.8"/>
<text class="ct" x="86.65" y="398.5" textLength="4.15" lengthAdjust="spacingAndGlyphs">11</text>
<rect class="cell" x="91.15" y="394.6" width="4.85" height="4.8"/>
<text class="ct" x="91.5" y="398.5" textLength="4.15" lengthAdjust="spacingAndGlyphs">12</text>
<rect class="cell" x="96" y="394.6" width="4.85" height="4.8"/>
<text class="ct" x="96.35" y="398.5" textLength="4.15" lengthAdjust="spacingAndGlyphs">13</text>
<rect class="cell" x="100.85" y="394.6" width="4.85" height="4.8"/>
<text class="ct" x="101.2" y="398.5" textLength="4.15" lengthAdjust="spacingAndGlyphs">14</text>
<rect class="cell" x="105.7" y="394.6" width="4.85" height="4.8"/>
<text class="ct" x="106.05" y="398.5" textLength="4.15" lengthAdjust="spacingAndGlyphs">15</text>
<rect class="cell" x="110.55" y="394.6" width="4.85" height="4.8"/>
<text class="ct" x="110.9" y="398.5" textLength="4.15" lengthAdjust="spacingAndGlyphs">16</text>
<rect class="t" x="93.7" y="400.2" width="4.6" height="2.6"/>
<rect class="lb" x="6.5" y="406.5" width="18" height="6" rx="0.8"/>
<text class="lt" x="7.97" y="412.1" textLength="15.25" lengthAdjust="spacingAndGlyphs">B-234</text>
<text class="s2" x="38.9" y="413.2" textLength="38.6" lengthAdjust="spacingAndGlyphs">ETACS-ECU SIDE</text>
<rect class="cbox" x="7.5" y="416.5" width="102" height="6"/>
<rect class="cell" x="7.8" y="416.8" width="5.05" height="4.8"/>
<text class="ct" x="10.32" y="420.7" text-anchor="middle">1</text>
<rect class="cell" x="12.85" y="416.8" width="5.05" height="4.8"/>
<text class="ct" x="15.38" y="420.7" text-anchor="middle">2</text>
<rect class="cell" x="17.9" y="416.8" width="5.05" height="4.8"/>
<text class="ct" x="20.43" y="420.7" text-anchor="middle">3</text>
<rect class="cell" x="22.95" y="416.8" width="5.05" height="4.8"/>
<text class="ct" x="25.48" y="420.7" text-anchor="middle">4</text>
<rect class="cell" x="28" y="416.8" width="5.05" height="4.8"/>
<text class="ct" x="30.52" y="420.7" text-anchor="middle">5</text>
<rect class="cell" x="33.05" y="416.8" width="5.05" height="4.8"/>
<text class="ct" x="35.57" y="420.7" text-anchor="middle">6</text>
<rect class="cell" x="38.1" y="416.8" width="5.05" height="4.8"/>
<text class="ct" x="40.62" y="420.7" text-anchor="middle">7</text>
<rect class="cell" x="43.15" y="416.8" width="5.05" height="4.8"/>
<text class="ct" x="45.67" y="420.7" text-anchor="middle">8</text>
<rect class="cell" x="48.2" y="416.8" width="5.05" height="4.8"/>
<text class="ct" x="50.72" y="420.7" text-anchor="middle">9</text>
<rect class="cell" x="53.25" y="416.8" width="5.05" height="4.8"/>
<text class="ct" x="53.6" y="420.7" textLength="4.35" lengthAdjust="spacingAndGlyphs">10</text>
<rect class="cell" x="58.3" y="416.8" width="5.05" height="4.8"/>
<text class="ct" x="58.65" y="420.7" textLength="4.35" lengthAdjust="spacingAndGlyphs">11</text>
<rect class="cell" x="63.35" y="416.8" width="5.05" height="4.8"/>
<text class="ct" x="63.7" y="420.7" textLength="4.35" lengthAdjust="spacingAndGlyphs">12</text>
<rect class="cell" x="68.4" y="416.8" width="5.05" height="4.8"/>
<text class="ct" x="68.75" y="420.7" textLength="4.35" lengthAdjust="spacingAndGlyphs">13</text>
<rect class="cell" x="73.45" y="416.8" width="5.05" height="4.8"/>
<text class="ct" x="73.8" y="420.7" textLength="4.35" lengthAdjust="spacingAndGlyphs">14</text>
<rect class="cell" x="78.5" y="416.8" width="5.05" height="4.8"/>
<text class="ct" x="78.85" y="420.7" textLength="4.35" lengthAdjust="spacingAndGlyphs">15</text>
<rect class="cell" x="83.55" y="416.8" width="5.05" height="4.8"/>
<text class="ct" x="83.9" y="420.7" textLength="4.35" lengthAdjust="spacingAndGlyphs">16</text>
<rect class="cell" x="88.6" y="416.8" width="5.05" height="4.8"/>
<text class="ct" x="88.95" y="420.7" textLength="4.35" lengthAdjust="spacingAndGlyphs">17</text>
<rect class="cell" x="93.65" y="416.8" width="5.05" height="4.8"/>
<text class="ct" x="94" y="420.7" textLength="4.35" lengthAdjust="spacingAndGlyphs">18</text>
<rect class="cell" x="98.7" y="416.8" width="5.05" height="4.8"/>
<text class="ct" x="99.05" y="420.7" textLength="4.35" lengthAdjust="spacingAndGlyphs">19</text>
<rect class="cell" x="103.75" y="416.8" width="5.05" height="4.8"/>
<text class="ct" x="104.1" y="420.7" textLength="4.35" lengthAdjust="spacingAndGlyphs">20</text>
<rect class="lb" x="114.5" y="406.5" width="18" height="6" rx="0.8"/>
<text class="lt" x="115.88" y="412" textLength="15.25" lengthAdjust="spacingAndGlyphs">B-238</text>
<text class="mu" x="116.1" y="417.8" textLength="19.5" lengthAdjust="spacingAndGlyphs">(MU801514)</text>
<path class="cbox" d="M118,418.4 L144.6,418.4 L144.6,430.4 L146.4,430.4 L146.4,433.8 L116.1,433.8 L116.1,430.4 L118,430.4Z"/>
<rect class="t" x="129.5" y="419" width="3.5" height="2.1"/>
<rect class="cell" x="119.3" y="421.1" width="4.82" height="5.6"/>
<text class="ct" x="121.71" y="425.8" text-anchor="middle">1</text>
<rect class="cell" x="124.12" y="421.1" width="4.82" height="5.6"/>
<text class="ct" x="126.53" y="425.8" text-anchor="middle">2</text>
<rect class="cell" x="128.94" y="421.1" width="4.82" height="5.6"/>
<text class="ct" x="131.35" y="425.8" text-anchor="middle">3</text>
<rect class="cell" x="133.76" y="421.1" width="4.82" height="5.6"/>
<text class="ct" x="136.17" y="425.8" text-anchor="middle">4</text>
<rect class="cell" x="138.58" y="421.1" width="4.82" height="5.6"/>
<text class="ct" x="140.99" y="425.8" text-anchor="middle">5</text>
<rect class="cell" x="119.3" y="426.7" width="4.82" height="5.6"/>
<text class="ct" x="121.71" y="431.4" text-anchor="middle">6</text>
<rect class="cell" x="124.12" y="426.7" width="4.82" height="5.6"/>
<text class="ct" x="126.53" y="431.4" text-anchor="middle">7</text>
<rect class="cell" x="128.94" y="426.7" width="4.82" height="5.6"/>
<text class="ct" x="131.35" y="431.4" text-anchor="middle">8</text>
<rect class="cell" x="133.76" y="426.7" width="4.82" height="5.6"/>
<text class="ct" x="136.17" y="431.4" text-anchor="middle">9</text>
<rect class="cell" x="138.58" y="426.7" width="4.82" height="5.6"/>
<text class="ct" x="138.93" y="431.4" textLength="4.12" lengthAdjust="spacingAndGlyphs">10</text>
<rect class="lb" x="251.5" y="377.5" width="18" height="6" rx="1.7"/>
<text class="lt" x="254.6" y="382.5" textLength="12.2" lengthAdjust="spacingAndGlyphs">B-26</text>
<rect class="cbox" x="252.5" y="386.5" width="62" height="10"/>
<rect class="cell" x="253.9" y="390.5" width="4.99" height="5.3"/>
<text class="ct" x="256.4" y="394.9" text-anchor="middle">1</text>
<rect class="cell" x="258.89" y="390.5" width="4.99" height="5.3"/>
<text class="ct" x="261.39" y="394.9" text-anchor="middle">2</text>
<rect class="cell" x="263.88" y="390.5" width="4.99" height="5.3"/>
<text class="ct" x="266.38" y="394.9" text-anchor="middle">3</text>
<rect class="cell" x="268.88" y="390.5" width="4.99" height="5.3"/>
<text class="ct" x="271.37" y="394.9" text-anchor="middle">4</text>
<rect class="cell" x="273.87" y="390.5" width="4.99" height="5.3"/>
<text class="ct" x="276.36" y="394.9" text-anchor="middle">5</text>
<rect class="cell" x="278.86" y="390.5" width="4.99" height="5.3"/>
<text class="ct" x="281.35" y="394.9" text-anchor="middle">6</text>
<rect class="cell" x="283.85" y="390.5" width="4.99" height="5.3"/>
<text class="ct" x="286.35" y="394.9" text-anchor="middle">7</text>
<rect class="cell" x="288.84" y="390.5" width="4.99" height="5.3"/>
<text class="ct" x="291.34" y="394.9" text-anchor="middle">8</text>
<rect class="cell" x="293.83" y="390.5" width="4.99" height="5.3"/>
<text class="ct" x="296.33" y="394.9" text-anchor="middle">9</text>
<rect class="cell" x="298.82" y="390.5" width="4.99" height="5.3"/>
<text class="ct" x="299.18" y="394.9" textLength="4.29" lengthAdjust="spacingAndGlyphs">10</text>
<rect class="cell" x="303.82" y="390.5" width="4.99" height="5.3"/>
<text class="ct" x="304.17" y="394.9" textLength="4.29" lengthAdjust="spacingAndGlyphs">11</text>
<rect class="cell" x="308.81" y="390.5" width="4.99" height="5.3"/>
<text class="ct" x="309.16" y="394.9" textLength="4.29" lengthAdjust="spacingAndGlyphs">12</text>
<polyline class="t" points="281.5,390.5 281.5,387.5 285.5,387.5 285.5,390.5"/>
<rect class="lb" x="319.5" y="377.5" width="18" height="6" rx="1.7"/>
<text class="lt" x="320.92" y="382.5" textLength="15.25" lengthAdjust="spacingAndGlyphs">B-208</text>
<rect class="cbox" x="320.5" y="386.5" width="12" height="10"/>
<circle class="t" cx="326.3" cy="388.4" r="0.8"/>
<rect class="cell" x="322.2" y="390.5" width="4.5" height="5.3"/>
<text class="ct" x="324.45" y="394.9" text-anchor="middle">1</text>
<rect class="cell" x="326.7" y="390.5" width="4.5" height="5.3"/>
<text class="ct" x="328.95" y="394.9" text-anchor="middle">2</text>
<rect class="lbg" x="357" y="377.6" width="17.8" height="5.4" rx="1.5"/>
<text class="lt" x="358.27" y="382.6" textLength="15.25" lengthAdjust="spacingAndGlyphs">B-229</text>
<rect class="cbox" x="358.5" y="386.5" width="22" height="12"/>
<rect class="cell" x="360.5" y="388.5" width="19" height="9"/>
<polyline class="t" points="360.3,392.5 379.8,392.5"/>
<polyline class="t" points="365.5,388.2 365.5,397.4"/>
<polyline class="t" points="374.5,388.2 374.5,397.4"/>
<polyline class="t" points="370.5,392.6 370.5,397.4"/>
<text class="ct2" x="362.8" y="391.9" text-anchor="middle">1</text>
<text class="ct2" x="377.4" y="391.9" text-anchor="middle">2</text>
<text class="ct2" x="362.8" y="396.8" text-anchor="middle">3</text>
<text class="ct2" x="367.6" y="396.8" text-anchor="middle">4</text>
<text class="ct2" x="372.5" y="396.8" text-anchor="middle">5</text>
<text class="ct2" x="377.4" y="396.8" text-anchor="middle">6</text>
<polyline class="t" points="369,391 370,392.4 371,391"/>
<rect class="lbg" x="384.9" y="377.6" width="18.3" height="5.4" rx="1.5"/>
<text class="lt" x="386.42" y="382.6" textLength="15.25" lengthAdjust="spacingAndGlyphs">B-230</text>
<rect class="cbox" x="386.5" y="386.5" width="42" height="12"/>
<rect class="cell" x="387.5" y="388.5" width="40" height="9"/>
<polyline class="t" points="387.6,393.5 427,393.5"/>
<polyline class="t" points="397.5,388.3 397.5,397.4"/>
<polyline class="t" points="418.5,388.3 418.5,397.4"/>
<polyline class="t" points="402.5,393 402.5,397.4"/>
<polyline class="t" points="408.5,393 408.5,397.4"/>
<polyline class="t" points="413.5,393 413.5,397.4"/>
<text class="ct2" x="392.2" y="392" text-anchor="middle">1</text>
<text class="ct2" x="422.7" y="392" text-anchor="middle">2</text>
<text class="ct2" x="392.2" y="396.9" text-anchor="middle">3</text>
<text class="ct2" x="400.4" y="396.9" text-anchor="middle">4</text>
<text class="ct2" x="405.5" y="396.9" text-anchor="middle">5</text>
<text class="ct2" x="410.6" y="396.9" text-anchor="middle">6</text>
<text class="ct2" x="415.7" y="396.9" text-anchor="middle">7</text>
<text class="ct2" x="422.7" y="396.9" text-anchor="middle">8</text>
<polyline class="t" points="407,391 408,392.4 409,391"/>
<rect class="lbg" x="432.5" y="377.6" width="18.6" height="5.4" rx="1.5"/>
<text class="lt" x="434.18" y="382.6" textLength="15.25" lengthAdjust="spacingAndGlyphs">B-231</text>
<rect class="cbox" x="434.5" y="386.5" width="99" height="26"/>
<rect class="t" x="436.5" y="388.5" width="95" height="23"/>
<polyline class="t" points="440,390.5 530.4,390.5"/>
<polyline class="t" points="440,408.5 530.4,408.5"/>
<rect class="gry" x="440.2" y="393.3" width="91.4" height="13.9"/>
<rect class="t" x="470" y="389.6" width="1.6" height="1.6"/>
<rect class="cell" x="441.5" y="395.6" width="4.98" height="5.1"/>
<text class="ct" x="443.99" y="399.8" text-anchor="middle">1</text>
<rect class="cell" x="446.48" y="395.6" width="4.98" height="5.1"/>
<text class="ct" x="448.97" y="399.8" text-anchor="middle">2</text>
<rect class="cell" x="451.46" y="395.6" width="4.98" height="5.1"/>
<text class="ct" x="453.94" y="399.8" text-anchor="middle">3</text>
<rect class="cell" x="456.43" y="395.6" width="4.98" height="5.1"/>
<text class="ct" x="458.92" y="399.8" text-anchor="middle">4</text>
<rect class="cell" x="461.41" y="395.6" width="4.98" height="5.1"/>
<text class="ct" x="463.9" y="399.8" text-anchor="middle">5</text>
<rect class="cell" x="466.39" y="395.6" width="4.98" height="5.1"/>
<text class="ct" x="468.88" y="399.8" text-anchor="middle">6</text>
<rect class="cell" x="471.37" y="395.6" width="4.98" height="5.1"/>
<text class="ct" x="473.86" y="399.8" text-anchor="middle">7</text>
<rect class="cell" x="476.34" y="395.6" width="4.98" height="5.1"/>
<text class="ct" x="478.83" y="399.8" text-anchor="middle">8</text>
<rect class="cell" x="481.32" y="395.6" width="4.98" height="5.1"/>
<text class="ct" x="483.81" y="399.8" text-anchor="middle">9</text>
<rect class="cell" x="486.3" y="395.6" width="4.98" height="5.1"/>
<text class="ct" x="486.65" y="399.8" textLength="4.28" lengthAdjust="spacingAndGlyphs">10</text>
<rect class="cell" x="491.28" y="395.6" width="4.98" height="5.1"/>
<text class="ct" x="491.63" y="399.8" textLength="4.28" lengthAdjust="spacingAndGlyphs">11</text>
<rect class="cell" x="496.26" y="395.6" width="4.98" height="5.1"/>
<text class="ct" x="496.61" y="399.8" textLength="4.28" lengthAdjust="spacingAndGlyphs">12</text>
<rect class="cell" x="501.23" y="395.6" width="4.98" height="5.1"/>
<text class="ct" x="501.58" y="399.8" textLength="4.28" lengthAdjust="spacingAndGlyphs">13</text>
<rect class="cell" x="506.21" y="395.6" width="4.98" height="5.1"/>
<text class="ct" x="506.56" y="399.8" textLength="4.28" lengthAdjust="spacingAndGlyphs">14</text>
<rect class="cell" x="511.19" y="395.6" width="4.98" height="5.1"/>
<text class="ct" x="511.54" y="399.8" textLength="4.28" lengthAdjust="spacingAndGlyphs">15</text>
<rect class="cell" x="516.17" y="395.6" width="4.98" height="5.1"/>
<text class="ct" x="516.52" y="399.8" textLength="4.28" lengthAdjust="spacingAndGlyphs">16</text>
<rect class="cell" x="521.14" y="395.6" width="4.98" height="5.1"/>
<text class="ct" x="521.49" y="399.8" textLength="4.28" lengthAdjust="spacingAndGlyphs">17</text>
<rect class="cell" x="526.12" y="395.6" width="4.98" height="5.1"/>
<text class="ct" x="526.47" y="399.8" textLength="4.28" lengthAdjust="spacingAndGlyphs">18</text>
<rect class="cellg" x="441.5" y="400.7" width="4.98" height="6"/>
<text class="ct" x="441.85" y="405.8" textLength="4.28" lengthAdjust="spacingAndGlyphs">19</text>
<rect class="cellg" x="446.48" y="400.7" width="4.98" height="6"/>
<text class="ct" x="446.83" y="405.8" textLength="4.28" lengthAdjust="spacingAndGlyphs">20</text>
<rect class="cellg" x="451.46" y="400.7" width="4.98" height="6"/>
<text class="ct" x="451.81" y="405.8" textLength="4.28" lengthAdjust="spacingAndGlyphs">21</text>
<rect class="cellg" x="456.43" y="400.7" width="4.98" height="6"/>
<text class="ct" x="456.78" y="405.8" textLength="4.28" lengthAdjust="spacingAndGlyphs">22</text>
<rect class="cellg" x="461.41" y="400.7" width="4.98" height="6"/>
<text class="ct" x="461.76" y="405.8" textLength="4.28" lengthAdjust="spacingAndGlyphs">23</text>
<rect class="cellg" x="466.39" y="400.7" width="4.98" height="6"/>
<text class="ct" x="466.74" y="405.8" textLength="4.28" lengthAdjust="spacingAndGlyphs">24</text>
<rect class="cellg" x="471.37" y="400.7" width="4.98" height="6"/>
<text class="ct" x="471.72" y="405.8" textLength="4.28" lengthAdjust="spacingAndGlyphs">25</text>
<rect class="cellg" x="476.34" y="400.7" width="4.98" height="6"/>
<text class="ct" x="476.69" y="405.8" textLength="4.28" lengthAdjust="spacingAndGlyphs">26</text>
<rect class="cellg" x="481.32" y="400.7" width="4.98" height="6"/>
<text class="ct" x="481.67" y="405.8" textLength="4.28" lengthAdjust="spacingAndGlyphs">27</text>
<rect class="cellg" x="486.3" y="400.7" width="4.98" height="6"/>
<text class="ct" x="486.65" y="405.8" textLength="4.28" lengthAdjust="spacingAndGlyphs">28</text>
<rect class="cellg" x="491.28" y="400.7" width="4.98" height="6"/>
<text class="ct" x="491.63" y="405.8" textLength="4.28" lengthAdjust="spacingAndGlyphs">29</text>
<rect class="cellg" x="496.26" y="400.7" width="4.98" height="6"/>
<text class="ct" x="496.61" y="405.8" textLength="4.28" lengthAdjust="spacingAndGlyphs">30</text>
<rect class="cellg" x="501.23" y="400.7" width="4.98" height="6"/>
<text class="ct" x="501.58" y="405.8" textLength="4.28" lengthAdjust="spacingAndGlyphs">31</text>
<rect class="cellg" x="506.21" y="400.7" width="4.98" height="6"/>
<text class="ct" x="506.56" y="405.8" textLength="4.28" lengthAdjust="spacingAndGlyphs">32</text>
<rect class="cellg" x="511.19" y="400.7" width="4.98" height="6"/>
<text class="ct" x="511.54" y="405.8" textLength="4.28" lengthAdjust="spacingAndGlyphs">33</text>
<rect class="cellg" x="516.17" y="400.7" width="4.98" height="6"/>
<text class="ct" x="516.52" y="405.8" textLength="4.28" lengthAdjust="spacingAndGlyphs">34</text>
<rect class="cellg" x="521.14" y="400.7" width="4.98" height="6"/>
<text class="ct" x="521.49" y="405.8" textLength="4.28" lengthAdjust="spacingAndGlyphs">35</text>
<rect class="cellg" x="526.12" y="400.7" width="4.98" height="6"/>
<text class="ct" x="526.47" y="405.8" textLength="4.28" lengthAdjust="spacingAndGlyphs">36</text>
<rect class="lb" x="538.5" y="377.5" width="18" height="6" rx="0.8"/>
<text class="lt" x="539.73" y="382.5" textLength="15.25" lengthAdjust="spacingAndGlyphs">B-233</text>
<text class="mu" x="540.2" y="388.4" textLength="18.8" lengthAdjust="spacingAndGlyphs">(MU801746)</text>
<rect class="gryb" x="559.3" y="382.2" width="51.2" height="23.5"/>
<rect class="cell" x="561.5" y="383.5" width="47" height="3"/>
<rect class="cell" x="561.2" y="387.9" width="5.34" height="4.8"/>
<text class="ct2" x="561.55" y="391.6" textLength="4.64" lengthAdjust="spacingAndGlyphs">51</text>
<rect class="cell" x="566.54" y="387.9" width="5.34" height="4.8"/>
<text class="ct2" x="566.89" y="391.6" textLength="4.64" lengthAdjust="spacingAndGlyphs">52</text>
<rect class="cell" x="571.89" y="387.9" width="5.34" height="4.8"/>
<text class="ct2" x="572.24" y="391.6" textLength="4.64" lengthAdjust="spacingAndGlyphs">53</text>
<rect class="cell" x="577.23" y="387.9" width="5.34" height="4.8"/>
<text class="ct2" x="577.58" y="391.6" textLength="4.64" lengthAdjust="spacingAndGlyphs">54</text>
<rect class="cell" x="582.58" y="387.9" width="5.34" height="4.8"/>
<text class="ct2" x="582.93" y="391.6" textLength="4.64" lengthAdjust="spacingAndGlyphs">55</text>
<rect class="cell" x="587.92" y="387.9" width="5.34" height="4.8"/>
<text class="ct2" x="588.27" y="391.6" textLength="4.64" lengthAdjust="spacingAndGlyphs">56</text>
<rect class="cell" x="593.27" y="387.9" width="5.34" height="4.8"/>
<text class="ct2" x="593.62" y="391.6" textLength="4.64" lengthAdjust="spacingAndGlyphs">57</text>
<rect class="cell" x="598.61" y="387.9" width="5.34" height="4.8"/>
<text class="ct2" x="598.96" y="391.6" textLength="4.64" lengthAdjust="spacingAndGlyphs">58</text>
<rect class="cell" x="603.96" y="387.9" width="5.34" height="4.8"/>
<text class="ct2" x="604.31" y="391.6" textLength="4.64" lengthAdjust="spacingAndGlyphs">59</text>
<rect class="cell" x="561.2" y="394.4" width="5.34" height="4.4"/>
<text class="ct2" x="561.55" y="397.8" textLength="4.64" lengthAdjust="spacingAndGlyphs">60</text>
<rect class="cell" x="566.54" y="394.4" width="5.34" height="4.4"/>
<text class="ct2" x="566.89" y="397.8" textLength="4.64" lengthAdjust="spacingAndGlyphs">61</text>
<rect class="cell" x="571.89" y="394.4" width="5.34" height="4.4"/>
<text class="ct2" x="572.24" y="397.8" textLength="4.64" lengthAdjust="spacingAndGlyphs">62</text>
<rect class="cell" x="577.23" y="394.4" width="5.34" height="4.4"/>
<text class="ct2" x="577.58" y="397.8" textLength="4.64" lengthAdjust="spacingAndGlyphs">63</text>
<rect class="cell" x="582.58" y="394.4" width="5.34" height="4.4"/>
<text class="ct2" x="582.93" y="397.8" textLength="4.64" lengthAdjust="spacingAndGlyphs">64</text>
<rect class="cell" x="587.92" y="394.4" width="5.34" height="4.4"/>
<text class="ct2" x="588.27" y="397.8" textLength="4.64" lengthAdjust="spacingAndGlyphs">65</text>
<rect class="cell" x="593.27" y="394.4" width="5.34" height="4.4"/>
<text class="ct2" x="593.62" y="397.8" textLength="4.64" lengthAdjust="spacingAndGlyphs">66</text>
<rect class="cell" x="598.61" y="394.4" width="5.34" height="4.4"/>
<text class="ct2" x="598.96" y="397.8" textLength="4.64" lengthAdjust="spacingAndGlyphs">67</text>
<rect class="cell" x="603.96" y="394.4" width="5.34" height="4.4"/>
<text class="ct2" x="604.31" y="397.8" textLength="4.64" lengthAdjust="spacingAndGlyphs">68</text>
<rect class="cell" x="561.2" y="400" width="5.34" height="4.4"/>
<text class="ct2" x="561.55" y="403.4" textLength="4.64" lengthAdjust="spacingAndGlyphs">69</text>
<rect class="cell" x="566.54" y="400" width="5.34" height="4.4"/>
<text class="ct2" x="566.89" y="403.4" textLength="4.64" lengthAdjust="spacingAndGlyphs">70</text>
<rect class="cell" x="571.89" y="400" width="5.34" height="4.4"/>
<text class="ct2" x="572.24" y="403.4" textLength="4.64" lengthAdjust="spacingAndGlyphs">71</text>
<rect class="cell" x="593.27" y="400" width="5.34" height="4.4"/>
<text class="ct2" x="593.62" y="403.4" textLength="4.64" lengthAdjust="spacingAndGlyphs">72</text>
<rect class="cell" x="598.61" y="400" width="5.34" height="4.4"/>
<text class="ct2" x="598.96" y="403.4" textLength="4.64" lengthAdjust="spacingAndGlyphs">73</text>
<rect class="cell" x="603.96" y="400" width="5.34" height="4.4"/>
<text class="ct2" x="604.31" y="403.4" textLength="4.64" lengthAdjust="spacingAndGlyphs">74</text>
<rect class="cell" x="580.5" y="400.5" width="13" height="4"/>
<text class="n2" x="377.9" y="418.6" textLength="46.2" lengthAdjust="spacingAndGlyphs">Wire colour code</text>
<text class="n2" x="377.9" y="424.4" textLength="23.8" lengthAdjust="spacingAndGlyphs">B : Black</text>
<text class="n2" x="410.5" y="424.4" textLength="44.5" lengthAdjust="spacingAndGlyphs">LG : Light green</text>
<text class="n2" x="464.2" y="424.4" textLength="26.4" lengthAdjust="spacingAndGlyphs">G : Green</text>
<text class="n2" x="500" y="424.4" textLength="19.7" lengthAdjust="spacingAndGlyphs">L : Blue</text>
<text class="n2" x="529.3" y="424.4" textLength="26.3" lengthAdjust="spacingAndGlyphs">W : White</text>
<text class="n2" x="565.2" y="424.4" textLength="26.3" lengthAdjust="spacingAndGlyphs">Y : Yellow</text>
<text class="n2" x="601" y="424.4" textLength="36.2" lengthAdjust="spacingAndGlyphs">SB : Sky blue</text>
<text class="n2" x="377.9" y="430.6" textLength="31.1" lengthAdjust="spacingAndGlyphs">BR : Brown</text>
<text class="n2" x="418" y="430.6" textLength="30.2" lengthAdjust="spacingAndGlyphs">O : Orange</text>
<text class="n2" x="457.4" y="430.6" textLength="26.9" lengthAdjust="spacingAndGlyphs">GR : Grey</text>
<text class="n2" x="493.9" y="430.6" textLength="20.1" lengthAdjust="spacingAndGlyphs">R : Red</text>
<text class="n2" x="523.5" y="430.6" textLength="20.3" lengthAdjust="spacingAndGlyphs">P : Pink</text>
<text class="n2" x="553.4" y="430.6" textLength="23.8" lengthAdjust="spacingAndGlyphs">V : Violet</text>
<text class="n2" x="586.5" y="430.6" textLength="30.9" lengthAdjust="spacingAndGlyphs">PU : Purple</text>
<text class="n2" x="626.7" y="430.6" textLength="25.8" lengthAdjust="spacingAndGlyphs">SI : Silver</text>
<text class="mu" x="671" y="432.8" textLength="28" lengthAdjust="spacingAndGlyphs">HBF09E008C</text>
</svg>
</body></html>
